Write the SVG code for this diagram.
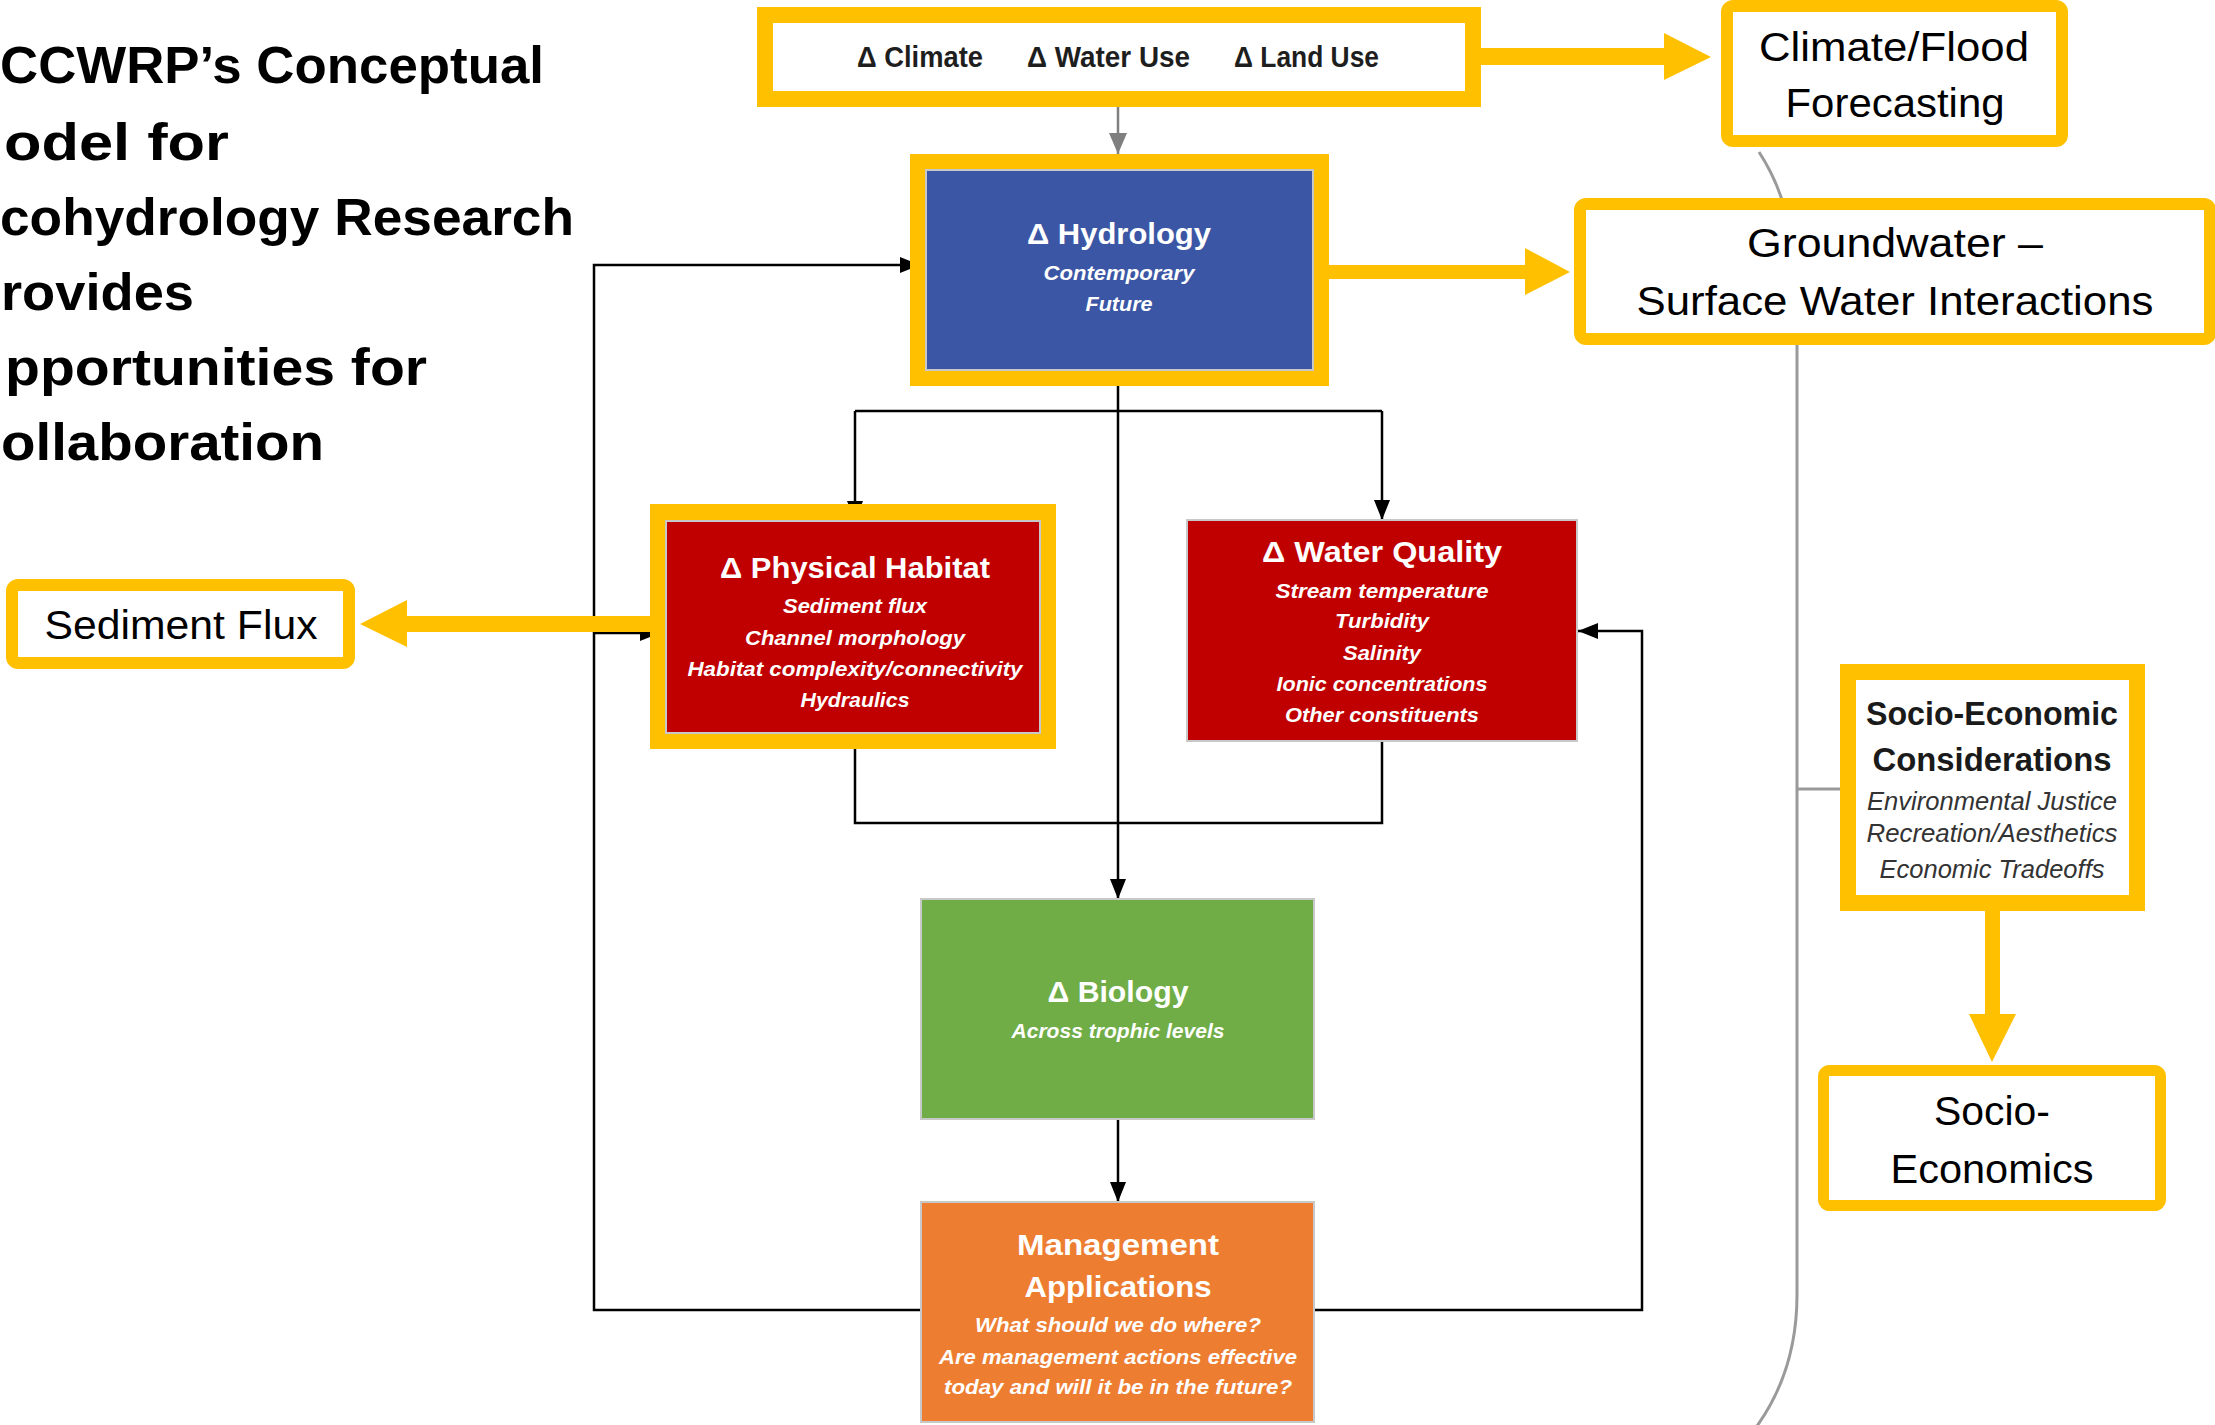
<svg xmlns="http://www.w3.org/2000/svg" width="2215" height="1425" viewBox="0 0 2215 1425">
  <defs>
    <style>
      text { font-family: "Liberation Sans", Arial, sans-serif; }
      .ttl { font-size: 52px; font-weight: 700; fill: #000; }
      .drv { font-size: 29px; font-weight: 700; fill: #1e1e1e; }
      .nt  { font-size: 30px; font-weight: 700; fill: #fff; text-anchor: middle; }
      .ns  { font-size: 21px; font-weight: 700; font-style: italic; fill: #fff; text-anchor: middle; }
      .ot  { font-size: 40px; fill: #000; text-anchor: middle; }
      .sh  { font-size: 33px; font-weight: 700; fill: #1a1a1a; text-anchor: middle; }
      .si  { font-size: 25px; font-style: italic; fill: #333; text-anchor: middle; }
      .frame { fill: #fff; stroke: #FFC000; }
      .hl  { fill: #FFC000; }
      .box { stroke: #c8c8c8; stroke-width: 2; }
      .ln  { fill: none; stroke: #000; stroke-width: 2.5; }
      .ln-grey { fill: none; stroke: #7f7f7f; stroke-width: 2.5; }
      .brace { fill: none; stroke: #9a9a9a; stroke-width: 3; }
      .callout { fill: #FFC000; }
    </style>
    <marker id="ah" markerUnits="userSpaceOnUse" markerWidth="20" markerHeight="16" viewBox="0 0 20 16" refX="20" refY="8" orient="auto">
      <path d="M0,0 L20,8 L0,16 z" fill="#000"/>
    </marker>
    <marker id="ahg" markerUnits="userSpaceOnUse" markerWidth="21" markerHeight="18" viewBox="0 0 21 18" refX="21" refY="9" orient="auto">
      <path d="M0,0 L21,9 L0,18 z" fill="#7f7f7f"/>
    </marker>
  </defs>

  <rect width="2215" height="1425" fill="#fff"/>

  <!-- heading, set flush against the page edge -->
  <g id="title">
    <text class="ttl" x="0" y="83" textLength="544" lengthAdjust="spacingAndGlyphs">CCWRP’s Conceptual</text>
    <text class="ttl" x="4" y="160" textLength="225" lengthAdjust="spacingAndGlyphs">odel for</text>
    <text class="ttl" x="0" y="235" textLength="574" lengthAdjust="spacingAndGlyphs">cohydrology Research</text>
    <text class="ttl" x="1" y="310" textLength="193" lengthAdjust="spacingAndGlyphs">rovides</text>
    <text class="ttl" x="5" y="385" textLength="422" lengthAdjust="spacingAndGlyphs">pportunities for</text>
    <text class="ttl" x="1" y="460" textLength="323" lengthAdjust="spacingAndGlyphs">ollaboration</text>
  </g>

  <!-- flow lines between the model boxes (drawn beneath the boxes) -->
  <g id="connectors">
    <path class="ln-grey" d="M1118,107 V154" marker-end="url(#ahg)"/>
    <path class="ln" d="M1118,370 V899" marker-end="url(#ah)"/>
    <path class="ln" d="M855,411 H1382"/>
    <path class="ln" d="M855,411 V521" marker-end="url(#ah)"/>
    <path class="ln" d="M1382,411 V520" marker-end="url(#ah)"/>
    <path class="ln" d="M855,733 V823 H1382 V741"/>
    <path class="ln" d="M1118,1119 V1202" marker-end="url(#ah)"/>
    <path class="ln" d="M921,1310 H594 V265 H920" marker-end="url(#ah)"/>
    <path class="ln" d="M594,633 H660" marker-end="url(#ah)"/>
    <path class="ln" d="M1314,1310 H1642 V631 H1578" marker-end="url(#ah)"/>
    <!-- bracket grouping the research outcomes on the right -->
    <path class="brace" d="M1759,152 Q1797,210 1797,300 V1295 Q1797,1370 1757,1426"/>
    <path class="brace" d="M1797,789 H1840"/>
  </g>

  <g id="drivers">
    <rect class="frame" x="765" y="15" width="708" height="84" stroke-width="16"/>
    <text class="drv" x="857" y="67" textLength="126" lengthAdjust="spacingAndGlyphs">Δ Climate</text>
    <text class="drv" x="1027" y="67" textLength="163" lengthAdjust="spacingAndGlyphs">Δ Water Use</text>
    <text class="drv" x="1234" y="67" textLength="145" lengthAdjust="spacingAndGlyphs">Δ Land Use</text>
  </g>

  <g id="hydrology">
    <rect class="hl" x="910" y="154" width="419" height="232"/>
    <rect class="box" x="926" y="170" width="387" height="200" fill="#3B56A4"/>
    <text class="nt" x="1119" y="244" textLength="184" lengthAdjust="spacingAndGlyphs">Δ Hydrology</text>
    <text class="ns" x="1119" y="280" textLength="151" lengthAdjust="spacingAndGlyphs">Contemporary</text>
    <text class="ns" x="1119" y="311" textLength="67" lengthAdjust="spacingAndGlyphs">Future</text>
  </g>

  <g id="physical-habitat">
    <rect class="hl" x="650" y="504" width="406" height="245"/>
    <rect class="box" x="666" y="521" width="374" height="212" fill="#C00000"/>
    <text class="nt" x="855" y="578" textLength="270" lengthAdjust="spacingAndGlyphs">Δ Physical Habitat</text>
    <text class="ns" x="855" y="613" textLength="144" lengthAdjust="spacingAndGlyphs">Sediment flux</text>
    <text class="ns" x="855" y="645" textLength="220" lengthAdjust="spacingAndGlyphs">Channel morphology</text>
    <text class="ns" x="855" y="676" textLength="335" lengthAdjust="spacingAndGlyphs">Habitat complexity/connectivity</text>
    <text class="ns" x="855" y="707" textLength="109" lengthAdjust="spacingAndGlyphs">Hydraulics</text>
  </g>

  <g id="water-quality">
    <rect class="box" x="1187" y="520" width="390" height="221" fill="#C00000"/>
    <text class="nt" x="1382" y="562" textLength="240" lengthAdjust="spacingAndGlyphs">Δ Water Quality</text>
    <text class="ns" x="1382" y="598" textLength="213" lengthAdjust="spacingAndGlyphs">Stream temperature</text>
    <text class="ns" x="1382" y="628" textLength="94" lengthAdjust="spacingAndGlyphs">Turbidity</text>
    <text class="ns" x="1382" y="660" textLength="78" lengthAdjust="spacingAndGlyphs">Salinity</text>
    <text class="ns" x="1382" y="691" textLength="211" lengthAdjust="spacingAndGlyphs">Ionic concentrations</text>
    <text class="ns" x="1382" y="722" textLength="194" lengthAdjust="spacingAndGlyphs">Other constituents</text>
  </g>

  <g id="biology">
    <rect class="box" x="921" y="899" width="393" height="220" fill="#70AD47"/>
    <text class="nt" x="1118" y="1002" textLength="141" lengthAdjust="spacingAndGlyphs">Δ Biology</text>
    <text class="ns" x="1118" y="1038" textLength="213" lengthAdjust="spacingAndGlyphs">Across trophic levels</text>
  </g>

  <g id="management">
    <rect class="box" x="921" y="1202" width="393" height="220" fill="#ED7D31"/>
    <text class="nt" x="1118" y="1255" textLength="202" lengthAdjust="spacingAndGlyphs">Management</text>
    <text class="nt" x="1118" y="1297" textLength="187" lengthAdjust="spacingAndGlyphs">Applications</text>
    <text class="ns" x="1118" y="1332" textLength="286" lengthAdjust="spacingAndGlyphs">What should we do where?</text>
    <text class="ns" x="1118" y="1364" textLength="358" lengthAdjust="spacingAndGlyphs">Are management actions effective</text>
    <text class="ns" x="1118" y="1394" textLength="348" lengthAdjust="spacingAndGlyphs">today and will it be in the future?</text>
  </g>

  <g id="climate-flood">
    <rect class="frame" x="1727" y="6" width="335" height="135" rx="6" stroke-width="12"/>
    <text class="ot" x="1894" y="61" textLength="270" lengthAdjust="spacingAndGlyphs">Climate/Flood</text>
    <text class="ot" x="1895" y="117" textLength="219" lengthAdjust="spacingAndGlyphs">Forecasting</text>
  </g>

  <g id="groundwater">
    <rect class="frame" x="1580" y="204" width="630" height="135" rx="6" stroke-width="12"/>
    <text class="ot" x="1895" y="257" textLength="296" lengthAdjust="spacingAndGlyphs">Groundwater –</text>
    <text class="ot" x="1895" y="315" textLength="517" lengthAdjust="spacingAndGlyphs">Surface Water Interactions</text>
  </g>

  <g id="sediment-flux">
    <rect class="frame" x="12" y="585" width="337" height="78" rx="6" stroke-width="12"/>
    <text class="ot" x="181" y="639" textLength="273" lengthAdjust="spacingAndGlyphs">Sediment Flux</text>
  </g>

  <g id="socio-economic-considerations">
    <rect class="frame" x="1848" y="672" width="289" height="231" stroke-width="16"/>
    <text class="sh" x="1992" y="725" textLength="252" lengthAdjust="spacingAndGlyphs">Socio-Economic</text>
    <text class="sh" x="1992" y="771" textLength="239" lengthAdjust="spacingAndGlyphs">Considerations</text>
    <text class="si" x="1992" y="810" textLength="250" lengthAdjust="spacingAndGlyphs">Environmental Justice</text>
    <text class="si" x="1992" y="842" textLength="251" lengthAdjust="spacingAndGlyphs">Recreation/Aesthetics</text>
    <text class="si" x="1992" y="878" textLength="225" lengthAdjust="spacingAndGlyphs">Economic Tradeoffs</text>
  </g>

  <g id="socio-economics">
    <rect class="frame" x="1823.5" y="1070.5" width="337" height="135" rx="6" stroke-width="11"/>
    <text class="ot" x="1992" y="1125" textLength="116" lengthAdjust="spacingAndGlyphs">Socio-</text>
    <text class="ot" x="1992" y="1183" textLength="203" lengthAdjust="spacingAndGlyphs">Economics</text>
  </g>

  <!-- wide highlight arrows pointing to the research outcomes -->
  <g id="callout-arrows">
    <polygon class="callout" points="1481,48 1664,48 1664,33 1711,57 1664,80 1664,65 1481,65"/>
    <polygon class="callout" points="1329,265 1525,265 1525,248 1570,272 1525,295 1525,279 1329,279"/>
    <polygon class="callout" points="650,616 407,616 407,600 360,624 407,647 407,632 650,632"/>
    <polygon class="callout" points="1985,911 1985,1014 1969,1014 1992,1062 2016,1014 2000,1014 2000,911"/>
  </g>
</svg>
